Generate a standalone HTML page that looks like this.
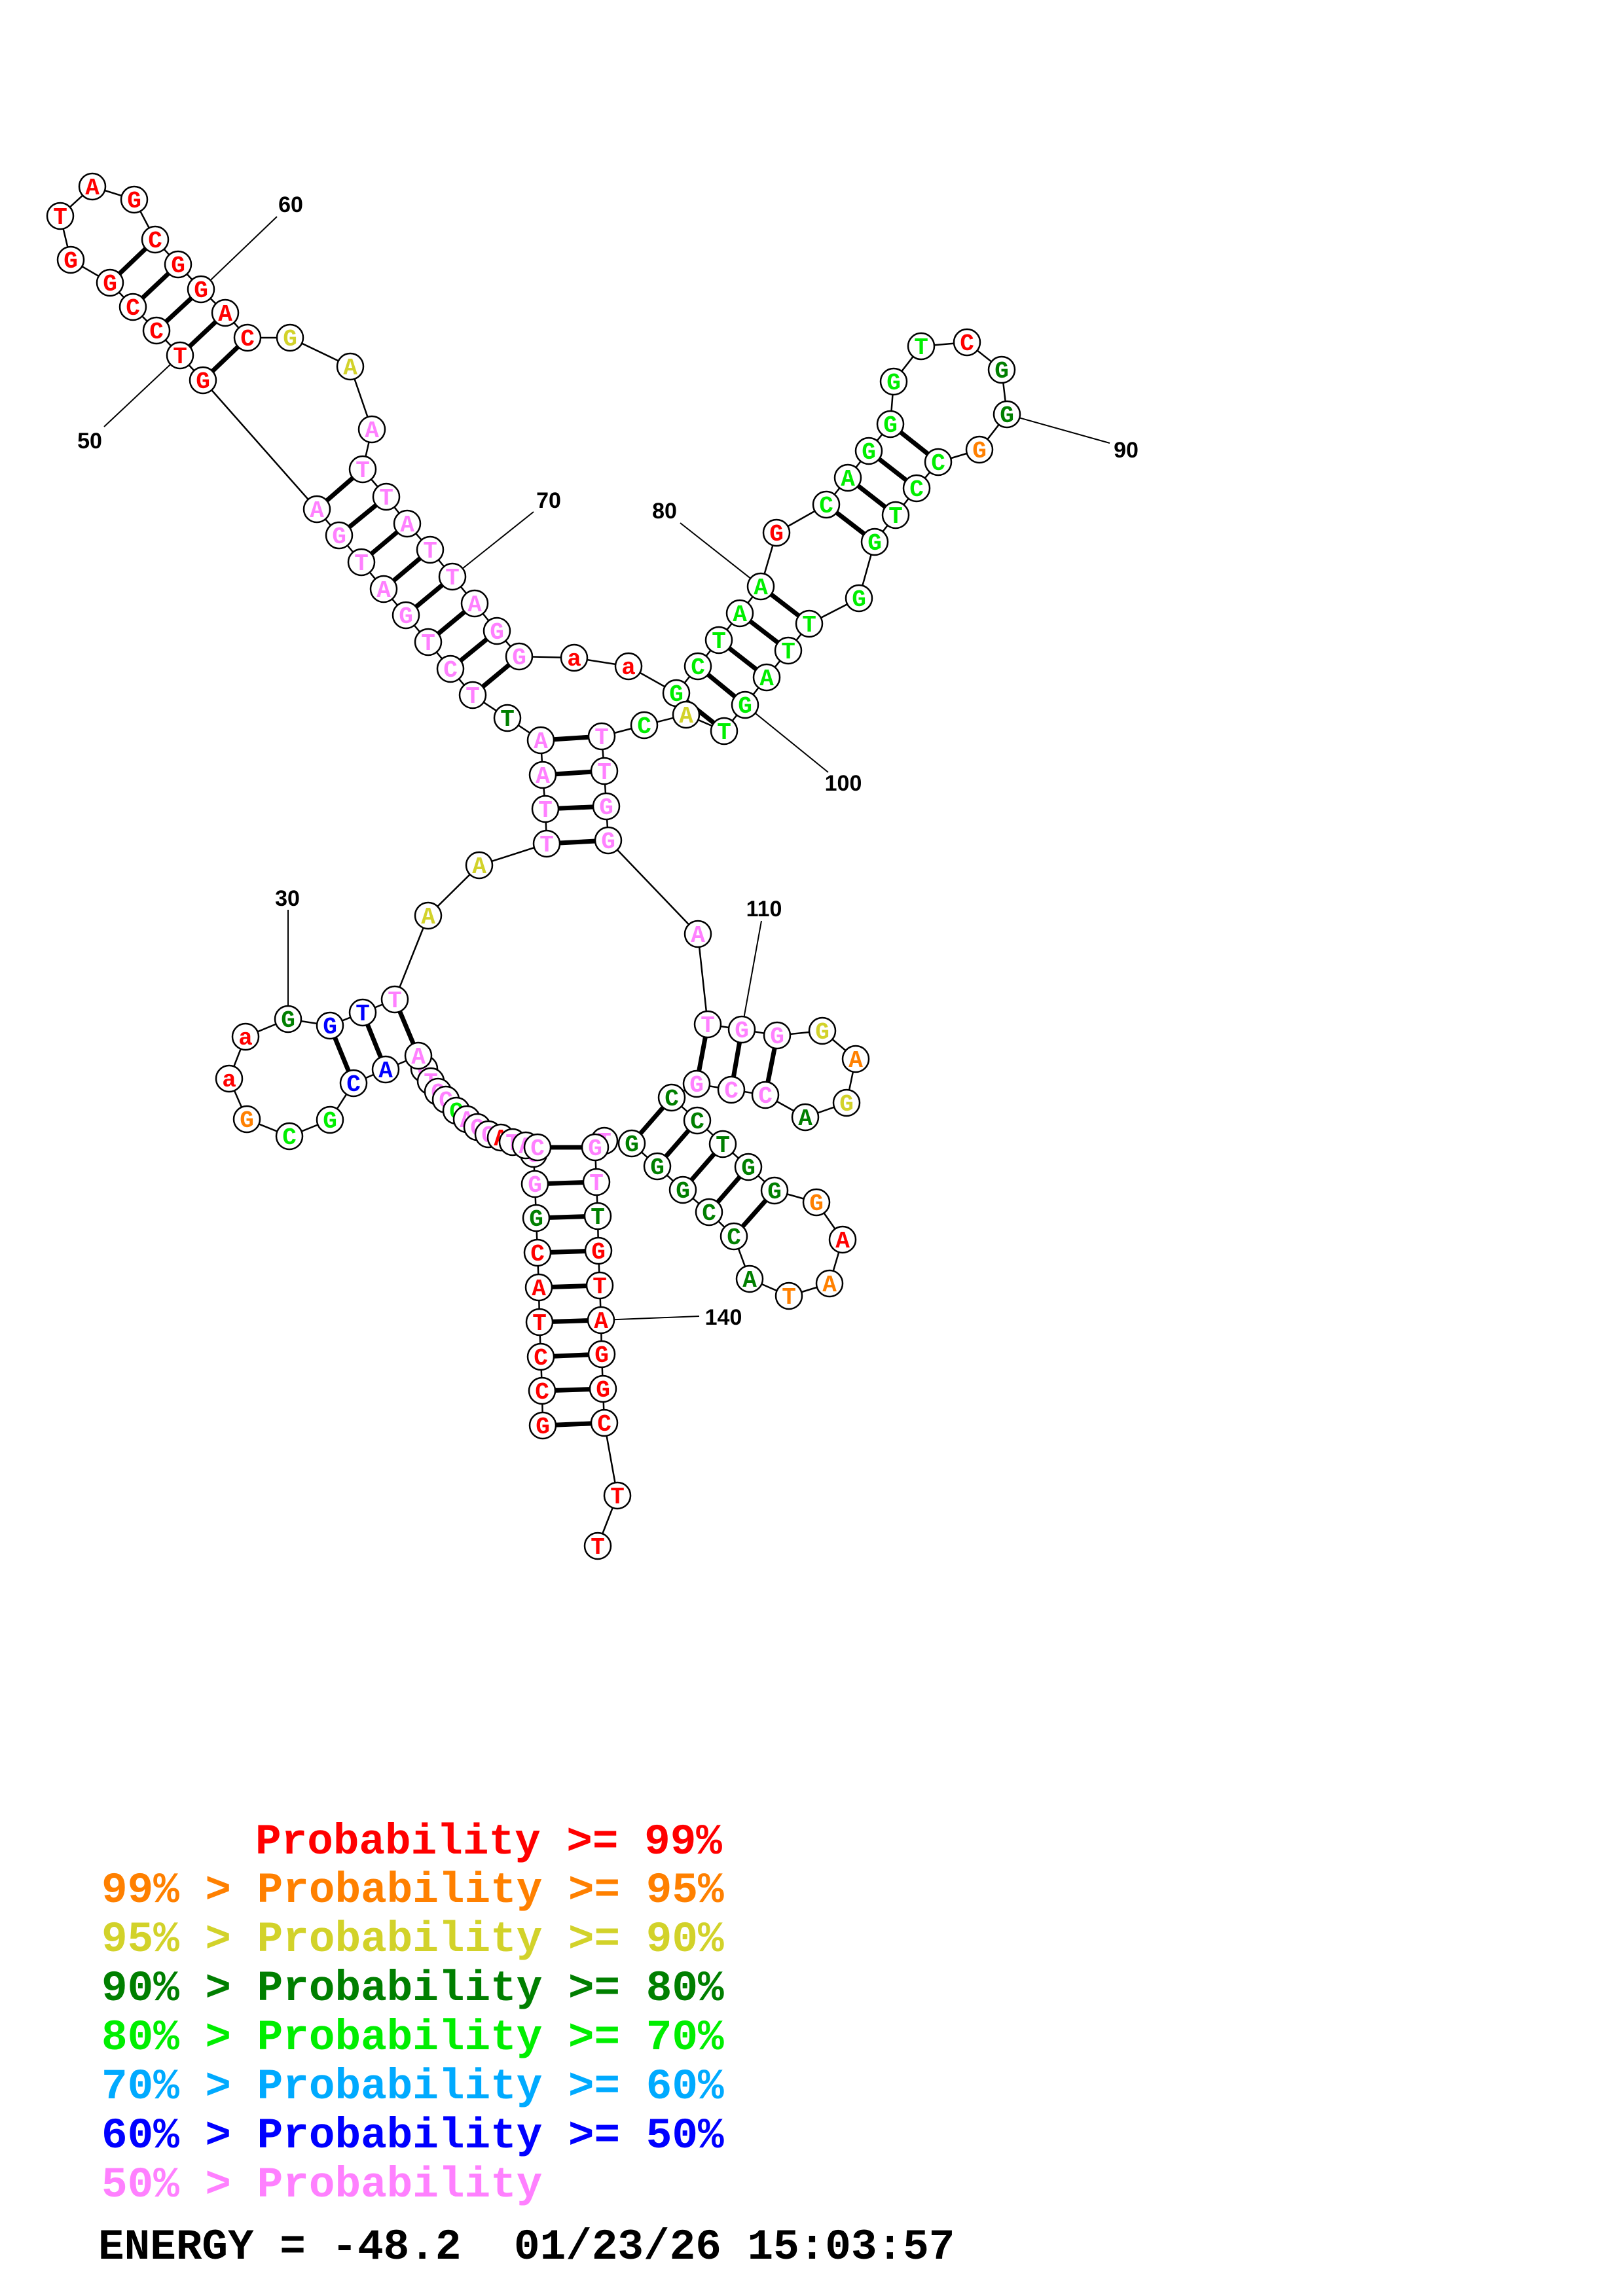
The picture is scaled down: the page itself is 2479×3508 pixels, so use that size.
<!DOCTYPE html>
<html><head><meta charset="utf-8"><style>
html,body{margin:0;padding:0;background:#fff;}
svg{display:block;}
.n circle{fill:#fff;stroke:#000;stroke-width:2.5;}
.n text{font-family:"Liberation Mono",monospace;font-weight:bold;font-size:36px;text-anchor:middle;}
.r{fill:#ff0000}.o{fill:#ff8000}.y{fill:#d2d22a}.d{fill:#007f00}.g{fill:#00ee00}.p{fill:#ff80ff}.b{fill:#0000ff}.lb{fill:#00aaff}.k{fill:#000}
.lg{font-family:"Liberation Mono",monospace;font-weight:bold;font-size:66px;white-space:pre;}
.num{font-family:"Liberation Sans",sans-serif;font-weight:bold;font-size:34px;text-anchor:middle;fill:#000;}
</style></head><body>
<svg width="2479" height="3508" viewBox="0 0 2479 3508" xmlns="http://www.w3.org/2000/svg">
<rect width="2479" height="3508" fill="#fff"/>
<g stroke="#000" stroke-width="2" fill="none">
<line x1="440" y1="1390" x2="440" y2="1557"/>
<line x1="159" y1="652" x2="275" y2="543"/>
<line x1="423" y1="331" x2="307" y2="442"/>
<line x1="815" y1="782" x2="691" y2="881"/>
<line x1="1039" y1="799" x2="1162" y2="896"/>
<line x1="1538" y1="633" x2="1695" y2="677"/>
<line x1="1138" y1="1077" x2="1265" y2="1180"/>
<line x1="1163" y1="1407" x2="1133" y2="1573"/>
<line x1="918" y1="2017" x2="1068" y2="2011"/>
</g>
<polyline fill="none" stroke="#000" stroke-width="2.5" points="829,2178 828,2125 826,2073 824,2020 823,1967 821,1914 819,1861 817,1809 815,1763 821,1753 803,1750 783,1745 765,1738 746,1733 729,1722 713,1710 697,1697 681,1680 669,1668 658,1652 648,1633 639,1613 589,1634 540,1655 504,1711 442,1736 377,1710 350,1648 375,1584 440,1557 504,1567 554,1547 603,1527 654,1399 732,1322 835,1289 833,1236 829,1184 826,1131 775,1097 722,1062 688,1022 654,981 620,940 586,900 552,859 518,818 484,778 310,581 275,543 239,505 203,469 168,432 108,397 92,330 141,285 205,305 237,366 272,404 307,442 344,478 378,516 443,516 535,560 568,656 554,717 590,759 622,800 657,840 691,881 725,922 759,964 793,1003 877,1005 960,1018 1033,1059 1066,1018 1098,978 1130,937 1162,896 1186,814 1262,771 1295,730 1327,689 1360,648 1365,583 1407,529 1477,523 1530,565 1538,633 1496,687 1433,706 1400,746 1368,787 1336,828 1312,914 1236,953 1204,994 1171,1035 1138,1077 1106,1117 1048,1092 984,1108 919,1125 923,1178 926,1232 929,1284 1066,1427 1081,1565 1133,1573 1187,1582 1256,1575 1307,1618 1293,1685 1230,1707 1169,1673 1117,1665 1064,1656 1026,1677 1065,1712 1104,1748 1143,1783 1183,1819 1247,1837 1287,1894 1267,1961 1205,1980 1145,1954 1121,1889 1083,1852 1043,1818 1004,1782 965,1747 923,1743 909,1753 911,1806 913,1858 914,1911 916,1964 918,2017 919,2069 921,2122 923,2174 943,2285 913,2362"/>
<g stroke="#000" stroke-width="7">
<line x1="829" y1="2178" x2="923" y2="2174"/><line x1="828" y1="2125" x2="921" y2="2122"/><line x1="826" y1="2073" x2="919" y2="2069"/><line x1="824" y1="2020" x2="918" y2="2017"/><line x1="823" y1="1967" x2="916" y2="1964"/><line x1="821" y1="1914" x2="914" y2="1911"/><line x1="819" y1="1861" x2="913" y2="1858"/><line x1="817" y1="1809" x2="911" y2="1806"/><line x1="821" y1="1753" x2="909" y2="1753"/>
<line x1="639" y1="1613" x2="603" y2="1527"/><line x1="589" y1="1634" x2="554" y2="1547"/><line x1="540" y1="1655" x2="504" y2="1567"/>
<line x1="835" y1="1289" x2="929" y2="1284"/><line x1="833" y1="1236" x2="926" y2="1232"/><line x1="829" y1="1184" x2="923" y2="1178"/><line x1="826" y1="1131" x2="919" y2="1125"/>
<line x1="722" y1="1062" x2="793" y2="1003"/><line x1="688" y1="1022" x2="759" y2="964"/><line x1="654" y1="981" x2="725" y2="922"/><line x1="620" y1="940" x2="691" y2="881"/><line x1="586" y1="900" x2="657" y2="840"/><line x1="552" y1="859" x2="622" y2="800"/><line x1="518" y1="818" x2="590" y2="759"/><line x1="484" y1="778" x2="554" y2="717"/>
<line x1="310" y1="581" x2="378" y2="516"/><line x1="275" y1="543" x2="344" y2="478"/><line x1="239" y1="505" x2="307" y2="442"/><line x1="203" y1="469" x2="272" y2="404"/><line x1="168" y1="432" x2="237" y2="366"/>
<line x1="1033" y1="1059" x2="1106" y2="1117"/><line x1="1066" y1="1018" x2="1138" y2="1077"/><line x1="1098" y1="978" x2="1171" y2="1035"/><line x1="1130" y1="937" x2="1204" y2="994"/><line x1="1162" y1="896" x2="1236" y2="953"/>
<line x1="1262" y1="771" x2="1336" y2="828"/><line x1="1295" y1="730" x2="1368" y2="787"/><line x1="1327" y1="689" x2="1400" y2="746"/><line x1="1360" y1="648" x2="1433" y2="706"/>
<line x1="1081" y1="1565" x2="1064" y2="1656"/><line x1="1133" y1="1573" x2="1117" y2="1665"/><line x1="1187" y1="1582" x2="1169" y2="1673"/>
<line x1="1026" y1="1677" x2="965" y2="1747"/><line x1="1065" y1="1712" x2="1004" y2="1782"/><line x1="1104" y1="1748" x2="1043" y2="1818"/><line x1="1143" y1="1783" x2="1083" y2="1852"/><line x1="1183" y1="1819" x2="1121" y2="1889"/>
</g>
<g class="n">
<circle cx="829" cy="2178" r="20"/><text x="829" y="2190" class="r">G</text>
<circle cx="828" cy="2125" r="20"/><text x="828" y="2137" class="r">C</text>
<circle cx="826" cy="2073" r="20"/><text x="826" y="2085" class="r">C</text>
<circle cx="824" cy="2020" r="20"/><text x="824" y="2032" class="r">T</text>
<circle cx="823" cy="1967" r="20"/><text x="823" y="1979" class="r">A</text>
<circle cx="821" cy="1914" r="20"/><text x="821" y="1926" class="r">C</text>
<circle cx="819" cy="1861" r="20"/><text x="819" y="1873" class="d">G</text>
<circle cx="817" cy="1809" r="20"/><text x="817" y="1821" class="p">G</text>
<circle cx="815" cy="1763" r="20"/><text x="815" y="1775" class="p">C</text>
<circle cx="648" cy="1633" r="20"/><text x="648" y="1645" class="p">G</text>
<circle cx="658" cy="1652" r="20"/><text x="658" y="1664" class="p">T</text>
<circle cx="669" cy="1668" r="20"/><text x="669" y="1680" class="p">C</text>
<circle cx="681" cy="1680" r="20"/><text x="681" y="1692" class="p">C</text>
<circle cx="697" cy="1697" r="20"/><text x="697" y="1709" class="g">C</text>
<circle cx="713" cy="1710" r="20"/><text x="713" y="1722" class="p">A</text>
<circle cx="729" cy="1722" r="20"/><text x="729" y="1734" class="p">C</text>
<circle cx="746" cy="1733" r="20"/><text x="746" y="1745" class="p">C</text>
<circle cx="765" cy="1738" r="20"/><text x="765" y="1750" class="r">A</text>
<circle cx="783" cy="1745" r="20"/><text x="783" y="1757" class="p">T</text>
<circle cx="803" cy="1750" r="20"/><text x="803" y="1762" class="p">A</text>
<circle cx="821" cy="1753" r="20"/><text x="821" y="1765" class="p">C</text>
<circle cx="639" cy="1613" r="20"/><text x="639" y="1625" class="p">A</text>
<circle cx="589" cy="1634" r="20"/><text x="589" y="1646" class="b">A</text>
<circle cx="540" cy="1655" r="20"/><text x="540" y="1667" class="b">C</text>
<circle cx="504" cy="1711" r="20"/><text x="504" y="1723" class="g">G</text>
<circle cx="442" cy="1736" r="20"/><text x="442" y="1748" class="g">C</text>
<circle cx="377" cy="1710" r="20"/><text x="377" y="1722" class="o">G</text>
<circle cx="350" cy="1648" r="20"/><text x="350" y="1660" class="r">a</text>
<circle cx="375" cy="1584" r="20"/><text x="375" y="1596" class="r">a</text>
<circle cx="440" cy="1557" r="20"/><text x="440" y="1569" class="d">G</text>
<circle cx="504" cy="1567" r="20"/><text x="504" y="1579" class="b">G</text>
<circle cx="554" cy="1547" r="20"/><text x="554" y="1559" class="b">T</text>
<circle cx="603" cy="1527" r="20"/><text x="603" y="1539" class="p">T</text>
<circle cx="654" cy="1399" r="20"/><text x="654" y="1411" class="y">A</text>
<circle cx="732" cy="1322" r="20"/><text x="732" y="1334" class="y">A</text>
<circle cx="835" cy="1289" r="20"/><text x="835" y="1301" class="p">T</text>
<circle cx="833" cy="1236" r="20"/><text x="833" y="1248" class="p">T</text>
<circle cx="829" cy="1184" r="20"/><text x="829" y="1196" class="p">A</text>
<circle cx="826" cy="1131" r="20"/><text x="826" y="1143" class="p">A</text>
<circle cx="775" cy="1097" r="20"/><text x="775" y="1109" class="d">T</text>
<circle cx="722" cy="1062" r="20"/><text x="722" y="1074" class="p">T</text>
<circle cx="688" cy="1022" r="20"/><text x="688" y="1034" class="p">C</text>
<circle cx="654" cy="981" r="20"/><text x="654" y="993" class="p">T</text>
<circle cx="620" cy="940" r="20"/><text x="620" y="952" class="p">G</text>
<circle cx="586" cy="900" r="20"/><text x="586" y="912" class="p">A</text>
<circle cx="552" cy="859" r="20"/><text x="552" y="871" class="p">T</text>
<circle cx="518" cy="818" r="20"/><text x="518" y="830" class="p">G</text>
<circle cx="484" cy="778" r="20"/><text x="484" y="790" class="p">A</text>
<circle cx="310" cy="581" r="20"/><text x="310" y="593" class="r">G</text>
<circle cx="275" cy="543" r="20"/><text x="275" y="555" class="r">T</text>
<circle cx="239" cy="505" r="20"/><text x="239" y="517" class="r">C</text>
<circle cx="203" cy="469" r="20"/><text x="203" y="481" class="r">C</text>
<circle cx="168" cy="432" r="20"/><text x="168" y="444" class="r">G</text>
<circle cx="108" cy="397" r="20"/><text x="108" y="409" class="r">G</text>
<circle cx="92" cy="330" r="20"/><text x="92" y="342" class="r">T</text>
<circle cx="141" cy="285" r="20"/><text x="141" y="297" class="r">A</text>
<circle cx="205" cy="305" r="20"/><text x="205" y="317" class="r">G</text>
<circle cx="237" cy="366" r="20"/><text x="237" y="378" class="r">C</text>
<circle cx="272" cy="404" r="20"/><text x="272" y="416" class="r">G</text>
<circle cx="307" cy="442" r="20"/><text x="307" y="454" class="r">G</text>
<circle cx="344" cy="478" r="20"/><text x="344" y="490" class="r">A</text>
<circle cx="378" cy="516" r="20"/><text x="378" y="528" class="r">C</text>
<circle cx="443" cy="516" r="20"/><text x="443" y="528" class="y">G</text>
<circle cx="535" cy="560" r="20"/><text x="535" y="572" class="y">A</text>
<circle cx="568" cy="656" r="20"/><text x="568" y="668" class="p">A</text>
<circle cx="554" cy="717" r="20"/><text x="554" y="729" class="p">T</text>
<circle cx="590" cy="759" r="20"/><text x="590" y="771" class="p">T</text>
<circle cx="622" cy="800" r="20"/><text x="622" y="812" class="p">A</text>
<circle cx="657" cy="840" r="20"/><text x="657" y="852" class="p">T</text>
<circle cx="691" cy="881" r="20"/><text x="691" y="893" class="p">T</text>
<circle cx="725" cy="922" r="20"/><text x="725" y="934" class="p">A</text>
<circle cx="759" cy="964" r="20"/><text x="759" y="976" class="p">G</text>
<circle cx="793" cy="1003" r="20"/><text x="793" y="1015" class="p">G</text>
<circle cx="877" cy="1005" r="20"/><text x="877" y="1017" class="r">a</text>
<circle cx="960" cy="1018" r="20"/><text x="960" y="1030" class="r">a</text>
<circle cx="1033" cy="1059" r="20"/><text x="1033" y="1071" class="g">G</text>
<circle cx="1066" cy="1018" r="20"/><text x="1066" y="1030" class="g">C</text>
<circle cx="1098" cy="978" r="20"/><text x="1098" y="990" class="g">T</text>
<circle cx="1130" cy="937" r="20"/><text x="1130" y="949" class="g">A</text>
<circle cx="1162" cy="896" r="20"/><text x="1162" y="908" class="g">A</text>
<circle cx="1186" cy="814" r="20"/><text x="1186" y="826" class="r">G</text>
<circle cx="1262" cy="771" r="20"/><text x="1262" y="783" class="g">C</text>
<circle cx="1295" cy="730" r="20"/><text x="1295" y="742" class="g">A</text>
<circle cx="1327" cy="689" r="20"/><text x="1327" y="701" class="g">G</text>
<circle cx="1360" cy="648" r="20"/><text x="1360" y="660" class="g">G</text>
<circle cx="1365" cy="583" r="20"/><text x="1365" y="595" class="g">G</text>
<circle cx="1407" cy="529" r="20"/><text x="1407" y="541" class="g">T</text>
<circle cx="1477" cy="523" r="20"/><text x="1477" y="535" class="r">C</text>
<circle cx="1530" cy="565" r="20"/><text x="1530" y="577" class="d">G</text>
<circle cx="1538" cy="633" r="20"/><text x="1538" y="645" class="d">G</text>
<circle cx="1496" cy="687" r="20"/><text x="1496" y="699" class="o">G</text>
<circle cx="1433" cy="706" r="20"/><text x="1433" y="718" class="g">C</text>
<circle cx="1400" cy="746" r="20"/><text x="1400" y="758" class="g">C</text>
<circle cx="1368" cy="787" r="20"/><text x="1368" y="799" class="g">T</text>
<circle cx="1336" cy="828" r="20"/><text x="1336" y="840" class="g">G</text>
<circle cx="1312" cy="914" r="20"/><text x="1312" y="926" class="g">G</text>
<circle cx="1236" cy="953" r="20"/><text x="1236" y="965" class="g">T</text>
<circle cx="1204" cy="994" r="20"/><text x="1204" y="1006" class="g">T</text>
<circle cx="1171" cy="1035" r="20"/><text x="1171" y="1047" class="g">A</text>
<circle cx="1138" cy="1077" r="20"/><text x="1138" y="1089" class="g">G</text>
<circle cx="1106" cy="1117" r="20"/><text x="1106" y="1129" class="g">T</text>
<circle cx="1048" cy="1092" r="20"/><text x="1048" y="1104" class="y">A</text>
<circle cx="984" cy="1108" r="20"/><text x="984" y="1120" class="g">C</text>
<circle cx="919" cy="1125" r="20"/><text x="919" y="1137" class="p">T</text>
<circle cx="923" cy="1178" r="20"/><text x="923" y="1190" class="p">T</text>
<circle cx="926" cy="1232" r="20"/><text x="926" y="1244" class="p">G</text>
<circle cx="929" cy="1284" r="20"/><text x="929" y="1296" class="p">G</text>
<circle cx="1066" cy="1427" r="20"/><text x="1066" y="1439" class="p">A</text>
<circle cx="1081" cy="1565" r="20"/><text x="1081" y="1577" class="p">T</text>
<circle cx="1133" cy="1573" r="20"/><text x="1133" y="1585" class="p">G</text>
<circle cx="1187" cy="1582" r="20"/><text x="1187" y="1594" class="p">G</text>
<circle cx="1256" cy="1575" r="20"/><text x="1256" y="1587" class="y">G</text>
<circle cx="1307" cy="1618" r="20"/><text x="1307" y="1630" class="o">A</text>
<circle cx="1293" cy="1685" r="20"/><text x="1293" y="1697" class="y">G</text>
<circle cx="1230" cy="1707" r="20"/><text x="1230" y="1719" class="d">A</text>
<circle cx="1169" cy="1673" r="20"/><text x="1169" y="1685" class="p">C</text>
<circle cx="1117" cy="1665" r="20"/><text x="1117" y="1677" class="p">C</text>
<circle cx="1064" cy="1656" r="20"/><text x="1064" y="1668" class="p">G</text>
<circle cx="1026" cy="1677" r="20"/><text x="1026" y="1689" class="d">C</text>
<circle cx="1065" cy="1712" r="20"/><text x="1065" y="1724" class="d">C</text>
<circle cx="1104" cy="1748" r="20"/><text x="1104" y="1760" class="d">T</text>
<circle cx="1143" cy="1783" r="20"/><text x="1143" y="1795" class="d">G</text>
<circle cx="1183" cy="1819" r="20"/><text x="1183" y="1831" class="d">G</text>
<circle cx="1247" cy="1837" r="20"/><text x="1247" y="1849" class="o">G</text>
<circle cx="1287" cy="1894" r="20"/><text x="1287" y="1906" class="r">A</text>
<circle cx="1267" cy="1961" r="20"/><text x="1267" y="1973" class="o">A</text>
<circle cx="1205" cy="1980" r="20"/><text x="1205" y="1992" class="o">T</text>
<circle cx="1145" cy="1954" r="20"/><text x="1145" y="1966" class="d">A</text>
<circle cx="1121" cy="1889" r="20"/><text x="1121" y="1901" class="d">C</text>
<circle cx="1083" cy="1852" r="20"/><text x="1083" y="1864" class="d">C</text>
<circle cx="1043" cy="1818" r="20"/><text x="1043" y="1830" class="d">G</text>
<circle cx="1004" cy="1782" r="20"/><text x="1004" y="1794" class="d">G</text>
<circle cx="965" cy="1747" r="20"/><text x="965" y="1759" class="d">G</text>
<circle cx="923" cy="1743" r="20"/><text x="923" y="1755" class="p">T</text>
<circle cx="909" cy="1753" r="20"/><text x="909" y="1765" class="p">G</text>
<circle cx="911" cy="1806" r="20"/><text x="911" y="1818" class="p">T</text>
<circle cx="913" cy="1858" r="20"/><text x="913" y="1870" class="d">T</text>
<circle cx="914" cy="1911" r="20"/><text x="914" y="1923" class="r">G</text>
<circle cx="916" cy="1964" r="20"/><text x="916" y="1976" class="r">T</text>
<circle cx="918" cy="2017" r="20"/><text x="918" y="2029" class="r">A</text>
<circle cx="919" cy="2069" r="20"/><text x="919" y="2081" class="r">G</text>
<circle cx="921" cy="2122" r="20"/><text x="921" y="2134" class="r">G</text>
<circle cx="923" cy="2174" r="20"/><text x="923" y="2186" class="r">C</text>
<circle cx="943" cy="2285" r="20"/><text x="943" y="2297" class="r">T</text>
<circle cx="913" cy="2362" r="20"/><text x="913" y="2374" class="r">T</text>
</g>
<text class="num" x="439" y="1384">30</text>
<text class="num" x="137" y="685">50</text>
<text class="num" x="444" y="324">60</text>
<text class="num" x="838" y="776">70</text>
<text class="num" x="1015" y="792">80</text>
<text class="num" x="1720" y="699">90</text>
<text class="num" x="1288" y="1208">100</text>
<text class="num" x="1167" y="1400">110</text>
<text class="num" x="1105" y="2024">140</text>
<g class="lg">
<text x="390" y="2832" class="r">Probability &gt;= 99%</text>
<text x="155" y="2906" class="o">99% &gt; Probability &gt;= 95%</text>
<text x="155" y="2981" class="y">95% &gt; Probability &gt;= 90%</text>
<text x="155" y="3056" class="d">90% &gt; Probability &gt;= 80%</text>
<text x="155" y="3131" class="g">80% &gt; Probability &gt;= 70%</text>
<text x="155" y="3206" class="lb">70% &gt; Probability &gt;= 60%</text>
<text x="155" y="3281" class="b">60% &gt; Probability &gt;= 50%</text>
<text x="155" y="3356" class="p">50% &gt; Probability</text>
<text x="150" y="3451" class="k">ENERGY = -48.2</text>
<text x="785" y="3451" class="k">01/23/26 15:03:57</text>
</g>
</svg>
</body></html>
